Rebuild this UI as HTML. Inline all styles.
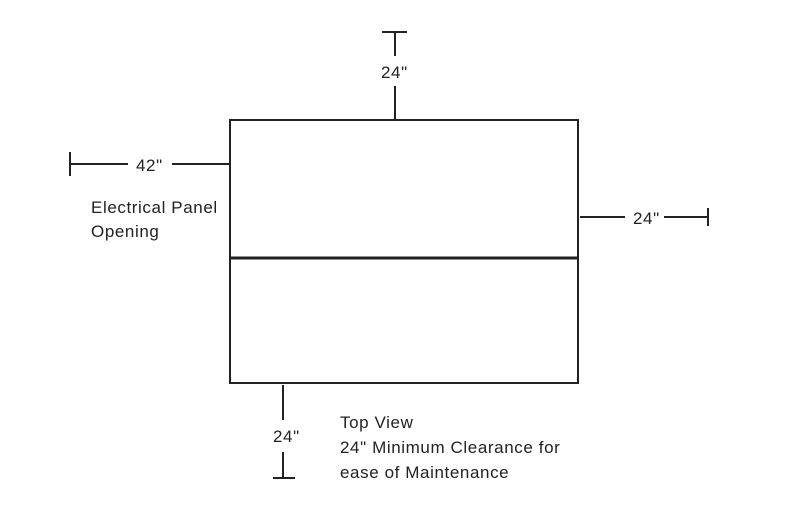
<!DOCTYPE html>
<html><head><meta charset="utf-8"><style>
html,body{margin:0;padding:0;background:#fff;width:800px;height:525px;overflow:hidden}
</style></head><body>
<svg width="800" height="525" xmlns="http://www.w3.org/2000/svg" font-family="Liberation Sans, sans-serif" font-size="17" letter-spacing="0.6" fill="#222">
<g stroke="#222" stroke-width="2" fill="none">
<rect x="230" y="120" width="348" height="263"/>
<line x1="230" y1="258" x2="578" y2="258" stroke-width="3"/>
<line x1="382" y1="32" x2="407" y2="32"/>
<line x1="395" y1="32" x2="395" y2="56"/>
<line x1="395" y1="86" x2="395" y2="120"/>
<line x1="70" y1="152" x2="70" y2="176"/>
<line x1="70" y1="164" x2="128" y2="164"/>
<line x1="172" y1="164" x2="230" y2="164"/>
<line x1="580" y1="217" x2="625" y2="217"/>
<line x1="664" y1="217" x2="708" y2="217"/>
<line x1="708" y1="208" x2="708" y2="226"/>
<line x1="283" y1="385" x2="283" y2="420"/>
<line x1="283" y1="452" x2="283" y2="478"/>
<line x1="273" y1="478" x2="295" y2="478"/>
</g>
<text x="381" y="78">24"</text>
<text x="136" y="171">42"</text>
<text x="633" y="224">24"</text>
<text x="273" y="442">24"</text>
<text x="91" y="213">Electrical Panel</text>
<text x="91" y="237">Opening</text>
<text x="340" y="428">Top View</text>
<text x="340" y="453">24" Minimum Clearance for</text>
<text x="340" y="478">ease of Maintenance</text>
</svg>
</body></html>
